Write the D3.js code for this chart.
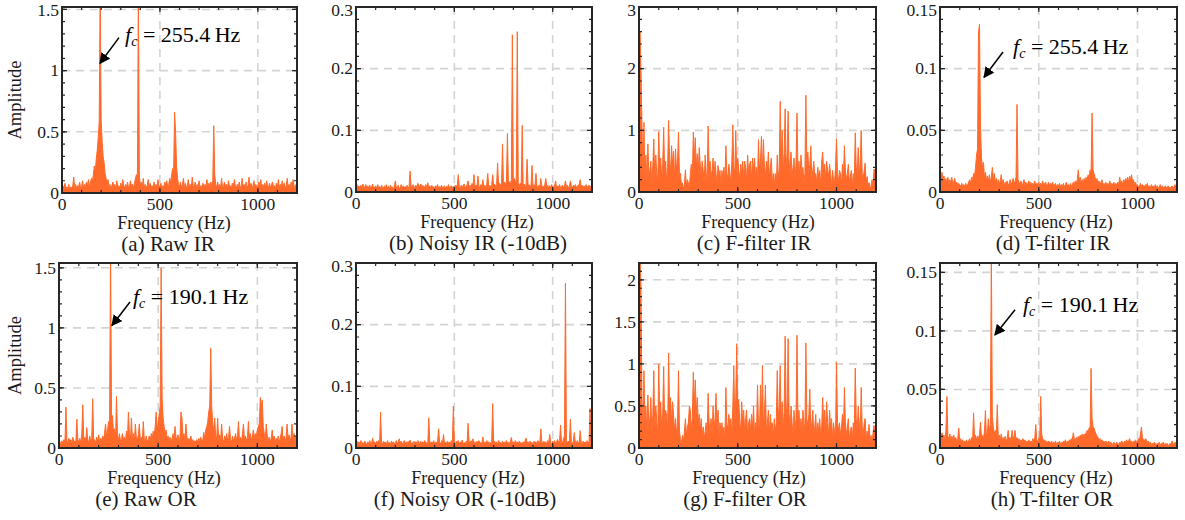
<!DOCTYPE html>
<html>
<head>
<meta charset="utf-8">
<script src="https://d3js.org/d3.v7.min.js"></script>
<style>
  body { margin: 0; background: #fff; }
  svg { display: block; }
  svg text { font-family: "Liberation Serif", "Times New Roman", "DejaVu Serif", serif; }
</style>
</head>
<body>
<div id="plot"></div>
<script>
// amplitude spectra, one value per 5 Hz bin from 0 to 1200 Hz
var binStep = 5;

var rawIR = [
  0.02,0.06,0.03,0.08,0.04,0.05,0.03,0.07,0.02,0.05,0.04,0.06,0.13,0.04,0.07,0.03,0.06,0.05,0.09,0.04,
  0.05,0.10,0.04,0.07,0.05,0.09,0.06,0.11,0.05,0.08,0.12,0.09,0.15,0.22,0.18,0.28,0.35,0.45,0.58,1.70,
  0.60,0.42,0.30,0.25,0.16,0.12,0.08,0.11,0.05,0.07,0.04,0.06,0.09,0.05,0.07,0.04,0.10,0.05,0.06,0.04,
  0.08,0.05,0.11,0.06,0.04,0.07,0.05,0.09,0.04,0.06,0.10,0.05,0.07,0.04,0.08,0.12,0.15,0.10,1.70,0.14,
  0.06,0.09,0.05,0.12,0.04,0.07,0.05,0.06,0.11,0.04,0.08,0.05,0.06,0.04,0.09,0.05,0.07,0.04,0.11,0.06,
  0.05,0.08,0.04,0.06,0.05,0.09,0.06,0.10,0.05,0.07,0.12,0.08,0.15,0.20,0.18,0.66,0.50,0.22,0.12,0.07,
  0.05,0.09,0.04,0.07,0.12,0.05,0.08,0.04,0.06,0.11,0.05,0.07,0.04,0.13,0.06,0.05,0.09,0.04,0.07,0.05,
  0.10,0.04,0.06,0.05,0.08,0.04,0.07,0.05,0.11,0.06,0.08,0.05,0.09,0.06,0.10,0.55,0.15,0.07,0.05,0.09,
  0.04,0.07,0.05,0.12,0.04,0.06,0.09,0.05,0.07,0.04,0.10,0.05,0.06,0.04,0.08,0.05,0.11,0.06,0.04,0.07,
  0.05,0.09,0.04,0.06,0.12,0.05,0.07,0.04,0.09,0.05,0.06,0.13,0.05,0.08,0.04,0.06,0.10,0.05,0.07,0.04,
  0.06,0.09,0.05,0.11,0.04,0.07,0.05,0.08,0.04,0.10,0.06,0.05,0.08,0.04,0.07,0.09,0.05,0.06,0.04,0.08,
  0.05,0.11,0.04,0.07,0.06,0.10,0.05,0.08,0.04,0.06,0.12,0.05,0.07,0.04,0.09,0.05,0.11,0.06,0.04,0.07,
  0.05
];

var noisyIR = [
  0.008,0.012,0.006,0.010,0.005,0.011,0.007,0.013,0.006,0.009,0.012,0.005,0.010,0.007,0.011,0.006,0.009,0.013,0.005,0.008,
  0.010,0.006,0.012,0.007,0.009,0.005,0.011,0.008,0.006,0.010,0.007,0.012,0.005,0.009,0.006,0.011,0.007,0.008,0.005,0.010,
  0.018,0.006,0.009,0.011,0.005,0.008,0.012,0.006,0.010,0.007,0.009,0.005,0.011,0.007,0.008,0.034,0.010,0.006,0.012,0.007,
  0.009,0.011,0.006,0.014,0.008,0.010,0.013,0.007,0.011,0.006,0.009,0.012,0.007,0.015,0.008,0.010,0.006,0.011,0.007,0.009,
  0.006,0.010,0.008,0.012,0.005,0.009,0.007,0.011,0.006,0.008,0.010,0.005,0.009,0.007,0.012,0.006,0.008,0.010,0.007,0.009,
  0.007,0.011,0.008,0.012,0.028,0.009,0.006,0.011,0.008,0.010,0.013,0.007,0.009,0.012,0.018,0.008,0.011,0.007,0.014,0.009,
  0.028,0.009,0.011,0.008,0.026,0.010,0.007,0.012,0.009,0.020,0.008,0.011,0.007,0.013,0.030,0.009,0.011,0.008,0.012,0.028,
  0.010,0.013,0.009,0.012,0.047,0.011,0.014,0.010,0.015,0.078,0.012,0.016,0.011,0.018,0.095,0.014,0.017,0.012,0.020,0.255,
  0.016,0.022,0.018,0.015,0.260,0.013,0.010,0.014,0.012,0.108,0.011,0.013,0.009,0.012,0.053,0.010,0.012,0.008,0.011,0.043,
  0.009,0.012,0.008,0.030,0.010,0.007,0.011,0.009,0.022,0.008,0.010,0.007,0.012,0.022,0.009,0.011,0.006,0.010,0.008,0.012,
  0.007,0.009,0.011,0.018,0.006,0.010,0.008,0.012,0.007,0.009,0.011,0.006,0.010,0.018,0.008,0.011,0.007,0.009,0.018,0.010,
  0.006,0.011,0.008,0.012,0.007,0.010,0.009,0.013,0.020,0.008,0.011,0.007,0.010,0.006,0.012,0.008,0.009,0.011,0.007,0.010,
  0.008
];

var ffIR = [
  0.30,2.60,2.00,1.10,0.30,1.13,0.20,0.60,0.15,0.78,0.25,0.35,0.50,0.10,0.45,0.86,0.20,0.60,0.30,0.15,
  0.98,0.40,0.55,0.20,0.45,1.05,0.30,0.50,0.15,0.40,1.16,0.55,0.30,0.75,0.45,0.66,0.20,0.70,0.35,0.50,
  0.97,0.25,0.30,0.10,0.15,0.05,0.12,0.36,0.08,0.20,0.15,0.06,0.30,0.45,0.20,0.97,0.55,0.88,0.40,0.62,
  0.30,0.72,0.45,0.25,0.50,0.35,0.15,0.60,0.30,0.20,1.07,0.40,0.50,0.25,0.35,0.55,0.20,0.50,0.30,0.15,
  0.43,0.25,0.35,0.10,0.35,0.20,0.40,0.15,0.75,0.30,0.20,0.45,0.30,0.15,0.50,1.09,0.40,0.30,1.00,0.25,
  0.55,0.35,0.20,0.45,0.30,0.50,0.25,0.50,0.40,0.20,0.60,0.30,0.45,0.50,0.20,0.55,0.35,0.55,0.25,0.40,
  0.20,0.85,0.35,0.50,0.90,0.30,0.85,0.40,0.25,0.50,0.35,0.65,0.20,0.40,0.55,0.15,0.30,0.10,0.30,0.05,
  0.60,0.20,0.40,1.47,0.50,1.00,0.30,0.65,1.35,0.40,0.60,1.31,0.35,0.50,0.65,0.25,0.40,0.55,0.20,0.45,
  1.28,0.30,0.50,0.20,0.60,0.35,0.40,0.15,0.30,1.57,0.40,0.65,0.30,0.45,0.75,0.20,0.35,0.50,0.25,0.30,
  0.15,0.40,0.25,0.35,0.10,0.50,0.65,0.30,0.45,0.20,0.50,0.35,0.25,0.45,0.30,0.10,0.35,0.20,0.15,0.40,
  0.86,0.30,0.15,0.35,0.30,0.10,0.45,0.20,0.75,0.35,0.20,0.30,0.45,0.15,0.25,0.35,0.10,0.30,0.20,0.96,
  0.40,0.30,0.72,0.25,0.50,1.00,0.30,0.20,0.35,0.47,0.15,0.25,0.10,0.15,0.05,0.10,0.20,0.10,0.37,0.30,
  0.35
];

var tfIR = [
  0.018,0.012,0.016,0.010,0.013,0.008,0.011,0.007,0.012,0.006,0.010,0.007,0.012,0.005,0.009,0.011,0.006,0.008,0.005,0.007,
  0.006,0.004,0.007,0.005,0.006,0.004,0.007,0.005,0.006,0.008,0.010,0.007,0.012,0.010,0.015,0.013,0.020,0.030,0.035,0.130,
  0.136,0.055,0.028,0.020,0.024,0.012,0.016,0.010,0.013,0.009,0.014,0.008,0.012,0.020,0.010,0.015,0.008,0.011,0.007,0.010,
  0.006,0.009,0.014,0.007,0.010,0.005,0.008,0.006,0.009,0.005,0.007,0.010,0.006,0.008,0.011,0.007,0.009,0.012,0.071,0.010,
  0.008,0.006,0.009,0.005,0.007,0.010,0.006,0.008,0.005,0.007,0.009,0.006,0.008,0.005,0.007,0.006,0.009,0.005,0.007,0.006,
  0.008,0.005,0.007,0.006,0.009,0.005,0.007,0.008,0.005,0.006,0.008,0.005,0.007,0.006,0.008,0.005,0.006,0.007,0.004,0.006,
  0.005,0.007,0.004,0.006,0.005,0.007,0.004,0.006,0.008,0.005,0.006,0.004,0.007,0.005,0.006,0.008,0.006,0.009,0.007,0.010,
  0.018,0.009,0.012,0.007,0.010,0.008,0.011,0.009,0.012,0.010,0.014,0.012,0.018,0.016,0.064,0.018,0.015,0.012,0.009,0.011,
  0.007,0.009,0.006,0.008,0.010,0.005,0.007,0.006,0.008,0.005,0.007,0.006,0.009,0.005,0.007,0.006,0.008,0.005,0.007,0.006,
  0.008,0.006,0.012,0.007,0.009,0.006,0.010,0.008,0.011,0.009,0.012,0.008,0.013,0.010,0.014,0.008,0.010,0.006,0.008,0.005,
  0.006,0.004,0.005,0.007,0.004,0.006,0.005,0.004,0.006,0.005,0.007,0.004,0.005,0.003,0.006,0.004,0.005,0.003,0.006,0.004,
  0.005,0.003,0.004,0.006,0.003,0.005,0.004,0.003,0.005,0.004,0.003,0.005,0.004,0.003,0.004,0.005,0.003,0.004,0.006,0.005,
  0.004
];

var rawOR = [
  0.02,0.05,0.03,0.06,0.04,0.07,0.05,0.34,0.06,0.04,0.08,0.05,0.07,0.04,0.09,0.05,0.06,0.04,0.24,0.07,
  0.05,0.08,0.04,0.12,0.36,0.06,0.09,0.05,0.17,0.07,0.04,0.10,0.06,0.08,0.41,0.05,0.07,0.04,0.09,0.06,
  0.11,0.05,0.08,0.06,0.10,0.07,0.13,0.20,0.09,0.15,0.22,0.18,1.70,0.25,0.27,0.12,0.16,0.08,0.43,0.10,
  0.07,0.12,0.05,0.08,0.12,0.06,0.09,0.05,0.14,0.07,0.30,0.10,0.06,0.25,0.08,0.12,0.05,0.20,0.09,0.07,
  0.11,0.20,0.06,0.09,0.05,0.22,0.08,0.06,0.10,0.05,0.07,0.10,0.06,0.12,0.08,0.14,0.10,0.18,0.30,0.15,
  0.20,0.28,0.35,1.50,0.42,0.25,0.18,0.12,0.15,0.08,0.10,0.06,0.09,0.05,0.08,0.12,0.06,0.18,0.09,0.07,
  0.11,0.06,0.09,0.30,0.25,0.08,0.12,0.06,0.20,0.09,0.05,0.08,0.06,0.10,0.05,0.07,0.04,0.06,0.05,0.07,
  0.05,0.08,0.06,0.09,0.05,0.07,0.13,0.08,0.15,0.18,0.22,0.30,0.35,0.83,0.35,0.20,0.15,0.25,0.10,0.08,
  0.25,0.07,0.11,0.06,0.20,0.08,0.05,0.10,0.07,0.12,0.06,0.09,0.18,0.07,0.05,0.10,0.06,0.08,0.12,0.07,
  0.10,0.22,0.06,0.09,0.05,0.12,0.20,0.07,0.10,0.06,0.09,0.22,0.08,0.12,0.06,0.10,0.15,0.08,0.12,0.10,
  0.15,0.18,0.20,0.42,0.35,0.40,0.18,0.12,0.08,0.20,0.10,0.06,0.09,0.05,0.08,0.15,0.07,0.10,0.05,0.08,
  0.06,0.10,0.05,0.08,0.12,0.18,0.07,0.10,0.05,0.09,0.20,0.07,0.11,0.06,0.09,0.20,0.08,0.12,0.06,0.10,
  0.07
];

var noisyOR = [
  0.008,0.011,0.006,0.010,0.005,0.012,0.007,0.009,0.006,0.011,0.008,0.005,0.010,0.007,0.012,0.006,0.009,0.016,0.007,0.010,
  0.006,0.011,0.008,0.012,0.007,0.058,0.009,0.006,0.011,0.008,0.010,0.005,0.012,0.007,0.009,0.006,0.011,0.008,0.010,0.006,
  0.009,0.012,0.007,0.010,0.015,0.008,0.011,0.006,0.009,0.012,0.007,0.010,0.006,0.011,0.008,0.013,0.007,0.009,0.006,0.011,
  0.008,0.010,0.006,0.012,0.007,0.009,0.011,0.006,0.010,0.008,0.012,0.007,0.009,0.006,0.049,0.011,0.007,0.010,0.008,0.012,
  0.006,0.010,0.008,0.011,0.031,0.009,0.006,0.012,0.008,0.022,0.007,0.010,0.006,0.011,0.008,0.010,0.007,0.012,0.008,0.068,
  0.010,0.007,0.011,0.008,0.012,0.006,0.010,0.008,0.013,0.007,0.009,0.006,0.011,0.008,0.040,0.010,0.007,0.012,0.008,0.015,
  0.007,0.010,0.006,0.011,0.008,0.012,0.007,0.009,0.006,0.018,0.008,0.010,0.007,0.012,0.008,0.010,0.006,0.009,0.011,0.072,
  0.008,0.011,0.007,0.010,0.006,0.012,0.008,0.009,0.006,0.011,0.008,0.010,0.007,0.012,0.008,0.009,0.006,0.011,0.017,0.008,
  0.010,0.007,0.012,0.008,0.010,0.006,0.011,0.008,0.009,0.006,0.010,0.007,0.012,0.016,0.008,0.010,0.006,0.011,0.008,0.009,
  0.007,0.011,0.008,0.010,0.006,0.012,0.008,0.009,0.031,0.010,0.007,0.011,0.008,0.010,0.006,0.012,0.008,0.022,0.009,0.007,
  0.011,0.008,0.012,0.007,0.010,0.014,0.009,0.012,0.037,0.010,0.008,0.015,0.020,0.267,0.012,0.009,0.011,0.008,0.047,0.010,
  0.007,0.011,0.025,0.009,0.007,0.012,0.008,0.010,0.028,0.009,0.007,0.011,0.008,0.010,0.006,0.012,0.008,0.010,0.064,0.011,
  0.009
];

var ffOR = [
  0.25,2.30,1.93,0.60,0.20,0.92,0.30,0.50,0.15,0.63,0.25,0.35,0.60,0.15,0.40,0.92,0.20,0.50,0.32,0.15,
  1.00,0.35,0.55,0.20,0.40,0.97,0.25,0.45,0.38,0.20,1.13,0.45,0.60,0.30,0.55,0.40,0.20,0.35,0.15,0.30,
  0.92,0.20,0.10,0.05,0.15,0.08,0.20,0.35,0.15,0.25,0.30,0.50,0.45,0.20,0.35,0.90,0.50,0.81,0.40,0.60,
  0.30,0.40,0.20,0.35,0.15,0.25,0.10,0.20,0.30,0.15,0.65,0.30,0.20,0.35,0.15,0.50,0.25,0.35,0.65,0.20,
  0.45,0.15,0.30,0.20,0.30,0.15,0.25,0.10,0.72,0.30,0.20,0.40,0.25,0.35,0.15,0.50,0.98,0.30,0.60,1.24,
  0.40,0.58,0.30,0.20,0.55,0.30,0.45,0.20,0.35,0.45,0.15,0.30,0.35,0.20,0.40,0.25,0.50,0.15,0.30,0.20,
  0.75,0.30,0.20,0.75,0.35,0.98,0.25,0.40,0.75,0.20,0.30,0.45,0.15,0.40,0.25,0.30,0.10,0.35,0.20,0.30,
  0.92,0.35,0.50,0.98,0.30,0.55,0.20,0.45,1.33,0.50,0.35,1.30,0.40,0.25,0.50,0.30,0.15,0.45,0.20,0.35,
  1.34,0.30,0.45,0.20,0.35,0.15,0.45,0.30,0.20,1.25,0.35,0.25,0.40,0.70,0.20,0.30,0.45,0.15,0.25,0.40,
  0.10,0.30,0.20,0.35,0.15,0.25,0.60,0.30,0.45,0.20,0.55,0.30,0.15,0.45,0.25,0.35,0.10,0.30,0.20,0.15,
  1.02,0.30,0.20,0.30,0.15,0.25,0.40,0.20,0.72,0.30,0.15,0.25,0.35,0.10,0.20,0.25,0.10,0.30,0.20,0.95,
  0.35,0.20,0.50,0.30,0.15,0.72,0.25,0.15,0.30,0.35,0.10,0.20,0.15,0.28,0.08,0.15,0.05,0.18,0.27,0.20,
  0.25
];

var tfOR = [
  0.012,0.008,0.013,0.009,0.011,0.007,0.015,0.044,0.010,0.008,0.012,0.006,0.010,0.008,0.011,0.006,0.009,0.005,0.008,0.017,
  0.006,0.008,0.005,0.007,0.004,0.006,0.005,0.007,0.004,0.006,0.008,0.005,0.009,0.006,0.030,0.008,0.011,0.007,0.010,0.008,
  0.012,0.022,0.009,0.011,0.008,0.014,0.032,0.010,0.013,0.025,0.015,0.020,0.170,0.027,0.018,0.012,0.015,0.010,0.037,0.009,
  0.011,0.007,0.012,0.006,0.009,0.007,0.010,0.006,0.008,0.015,0.007,0.009,0.006,0.015,0.008,0.010,0.015,0.007,0.009,0.006,
  0.008,0.005,0.007,0.006,0.008,0.005,0.007,0.004,0.006,0.005,0.007,0.004,0.006,0.005,0.008,0.006,0.009,0.020,0.007,0.005,
  0.008,0.010,0.044,0.012,0.008,0.006,0.007,0.005,0.006,0.004,0.006,0.005,0.004,0.006,0.003,0.005,0.004,0.006,0.003,0.005,
  0.004,0.006,0.003,0.005,0.004,0.006,0.005,0.007,0.004,0.006,0.005,0.007,0.006,0.008,0.007,0.013,0.008,0.007,0.009,0.007,
  0.010,0.008,0.011,0.009,0.012,0.010,0.012,0.011,0.013,0.015,0.014,0.017,0.018,0.068,0.025,0.018,0.017,0.014,0.012,0.010,
  0.009,0.007,0.008,0.006,0.007,0.005,0.006,0.004,0.006,0.005,0.004,0.006,0.003,0.005,0.004,0.003,0.005,0.004,0.003,0.005,
  0.004,0.003,0.005,0.004,0.006,0.005,0.004,0.006,0.005,0.007,0.005,0.006,0.008,0.005,0.006,0.004,0.006,0.005,0.007,0.005,
  0.006,0.008,0.007,0.012,0.018,0.009,0.007,0.006,0.008,0.007,0.005,0.006,0.004,0.005,0.003,0.004,0.003,0.005,0.004,0.003,
  0.004,0.003,0.005,0.002,0.004,0.003,0.005,0.002,0.004,0.003,0.004,0.002,0.003,0.004,0.003,0.006,0.004,0.003,0.005,0.004,
  0.005
];

// axis settings
var xTicks = [0, 500, 1000];
var captions = ["(a) Raw IR", "(b) Noisy IR (-10dB)", "(c) F-filter IR", "(d) T-filter IR",
                "(e) Raw OR", "(f) Noisy OR (-10dB)", "(g) F-filter OR", "(h) T-filter OR"];
var yMaxes = [1.52, 0.3, 3, 0.15, 1.54, 0.3, 2.2, 0.158];
var yTickSets = [[0, 0.5, 1, 1.5], [0, 0.1, 0.2, 0.3], [0, 1, 2, 3], [0, 0.05, 0.1, 0.15],
                 [0, 0.5, 1, 1.5], [0, 0.1, 0.2, 0.3], [0, 0.5, 1, 1.5, 2], [0, 0.05, 0.1, 0.15]];

// fault frequency notes: arrow head, arrow tail and text start in data units
var notes = [
  {panel: 0, fc: "255.4", head: [194, 1.06], tail: [291, 1.27], text: [322, 1.235]},
  {panel: 3, fc: "255.4", head: [223, 0.093], tail: [319, 0.1135], text: [370, 0.112]},
  {panel: 4, fc: "190.1", head: [267, 1.02], tail: [358, 1.215], text: [373, 1.20]},
  {panel: 7, fc: "190.1", head: [278, 0.0965], tail: [380, 0.118], text: [420, 0.116]}
];

var series = [rawIR, noisyIR, ffIR, tfIR, rawOR, noisyOR, ffOR, tfOR];

// plot boxes [left, top, right, bottom] and label centres
var boxes = [
  [62, 7, 297, 193], [356, 7, 592, 192], [639, 7, 876, 192], [940, 7, 1177, 192],
  [59, 263, 297, 448], [356, 263, 592, 448], [639, 263, 876, 448], [940, 263, 1177, 448]
];
var freqLabelX = [174, 477, 758, 1056, 164, 468, 749, 1056];
var captionX = [168, 478, 754, 1053, 146, 465, 745, 1052];

var lineColor = "#ff6a2b";
var frameColor = "#262626";
var textColor = "#1a1a1a";
var w = 1185, h = 520;

var svg = d3.select("#plot").append("svg")
  .attr("width", w)
  .attr("height", h)
  .attr("font-family", "'Liberation Serif', 'Times New Roman', 'DejaVu Serif', serif");

// arrow head marker
svg.append("defs").append("marker")
  .attr("id", "arrow")
  .attr("viewBox", "0 0 10 10")
  .attr("refX", 9).attr("refY", 5)
  .attr("markerWidth", 11).attr("markerHeight", 11)
  .attr("markerUnits", "userSpaceOnUse")
  .attr("orient", "auto")
  .append("path")
  .attr("d", "M0,0 L10,5 L0,10 Z")
  .attr("fill", "#000");

series.forEach(function(data, p) {
  var b = boxes[p];
  var x = d3.scaleLinear().domain([0, 1200]).range([b[0], b[2]]);
  var y = d3.scaleLinear().domain([0, yMaxes[p]]).range([b[3], b[1]]);
  var yt = yTickSets[p];
  var yStep = yt[1] - yt[0];
  var g = svg.append("g");

  // clip to the plot box
  g.append("clipPath").attr("id", "clip" + p)
    .append("rect")
    .attr("x", b[0]).attr("y", b[1])
    .attr("width", b[2] - b[0]).attr("height", b[3] - b[1]);

  // dashed grid
  g.selectAll(".gy").data(yt.filter(function(v) { return v > 0; }))
    .enter().append("line")
    .attr("x1", b[0]).attr("x2", b[2])
    .attr("y1", function(v) { return y(v); })
    .attr("y2", function(v) { return y(v); })
    .attr("stroke", "#d4d4d4").attr("stroke-width", 1.6)
    .attr("stroke-dasharray", "8,6");
  g.selectAll(".gx").data(xTicks.filter(function(v) { return v > 0; }))
    .enter().append("line")
    .attr("x1", function(v) { return x(v); })
    .attr("x2", function(v) { return x(v); })
    .attr("y1", b[1]).attr("y2", b[3])
    .attr("stroke", "#d4d4d4").attr("stroke-width", 1.6)
    .attr("stroke-dasharray", "8,6");

  // spectrum
  var area = d3.area()
    .x(function(d, i) { return x(i * binStep); })
    .y0(y(0))
    .y1(function(d) { return y(d); });
  var line = d3.line()
    .x(function(d, i) { return x(i * binStep); })
    .y(function(d) { return y(d); });
  var spec = g.append("g").attr("clip-path", "url(#clip" + p + ")");
  spec.append("path").datum(data)
    .attr("d", area)
    .attr("fill", lineColor);
  spec.append("path").datum(data)
    .attr("d", line)
    .attr("fill", "none")
    .attr("stroke", lineColor)
    .attr("stroke-width", 1);

  // minor and major ticks on all four sides
  var xMinor = d3.range(100, 1200, 100);
  var yMinor = d3.range(yStep / 5, yMaxes[p], yStep / 5);
  [[xMinor, 3], [xTicks.slice(1), 5]].forEach(function(t) {
    g.selectAll(null).data(t[0]).enter().append("path")
      .attr("d", function(v) {
        return "M" + x(v) + "," + b[3] + "v" + (-t[1]) + "M" + x(v) + "," + b[1] + "v" + t[1];
      })
      .attr("stroke", frameColor).attr("stroke-width", 1.2);
  });
  [[yMinor, 3], [yt.slice(1), 5]].forEach(function(t) {
    g.selectAll(null).data(t[0]).enter().append("path")
      .attr("d", function(v) {
        return "M" + b[0] + "," + y(v) + "h" + t[1] + "M" + b[2] + "," + y(v) + "h" + (-t[1]);
      })
      .attr("stroke", frameColor).attr("stroke-width", 1.2);
  });

  // frame
  g.append("rect")
    .attr("x", b[0]).attr("y", b[1])
    .attr("width", b[2] - b[0]).attr("height", b[3] - b[1])
    .attr("fill", "none")
    .attr("stroke", frameColor)
    .attr("stroke-width", 2);

  // tick labels
  g.selectAll(".xl").data(xTicks).enter().append("text")
    .attr("x", function(v) { return x(v); })
    .attr("y", b[3] + 17)
    .attr("text-anchor", "middle")
    .attr("font-size", 17.5)
    .attr("fill", textColor)
    .text(function(v) { return v; });
  g.selectAll(".yl").data(yt).enter().append("text")
    .attr("x", b[0] - 3)
    .attr("y", function(v) { return Math.max(y(v), b[1] + 3); })
    .attr("dy", "0.33em")
    .attr("text-anchor", "end")
    .attr("font-size", 17.5)
    .attr("fill", textColor)
    .text(function(v) { return v; });

  // axis title and caption
  g.append("text")
    .attr("x", freqLabelX[p]).attr("y", b[3] + 36)
    .attr("text-anchor", "middle")
    .attr("font-size", 18)
    .attr("fill", textColor)
    .text("Frequency (Hz)");
  g.append("text")
    .attr("x", captionX[p]).attr("y", b[3] + 58)
    .attr("text-anchor", "middle")
    .attr("font-size", 21)
    .attr("fill", textColor)
    .text(captions[p]);

  if (p % 4 === 0) {
    g.append("text")
      .attr("transform", "translate(21," + ((b[1] + b[3]) / 2) + ") rotate(-90)")
      .attr("text-anchor", "middle")
      .attr("font-size", 18.5)
      .attr("fill", textColor)
      .text("Amplitude");
  }

  // annotation with arrow
  notes.filter(function(n) { return n.panel === p; }).forEach(function(n) {
    g.append("line")
      .attr("x1", x(n.tail[0])).attr("y1", y(n.tail[1]))
      .attr("x2", x(n.head[0])).attr("y2", y(n.head[1]))
      .attr("stroke", "#000").attr("stroke-width", 1.5)
      .attr("marker-end", "url(#arrow)");
    var t = g.append("text")
      .attr("x", x(n.text[0])).attr("y", y(n.text[1]))
      .attr("font-size", 22)
      .attr("fill", "#000");
    t.append("tspan").attr("font-style", "italic").text("f");
    t.append("tspan").attr("font-style", "italic").attr("font-size", 14).attr("dy", 4).text("c");
    t.append("tspan").attr("dy", -4).text(" = " + n.fc + "\u2009Hz");
  });
});
</script>
</body>
</html>
